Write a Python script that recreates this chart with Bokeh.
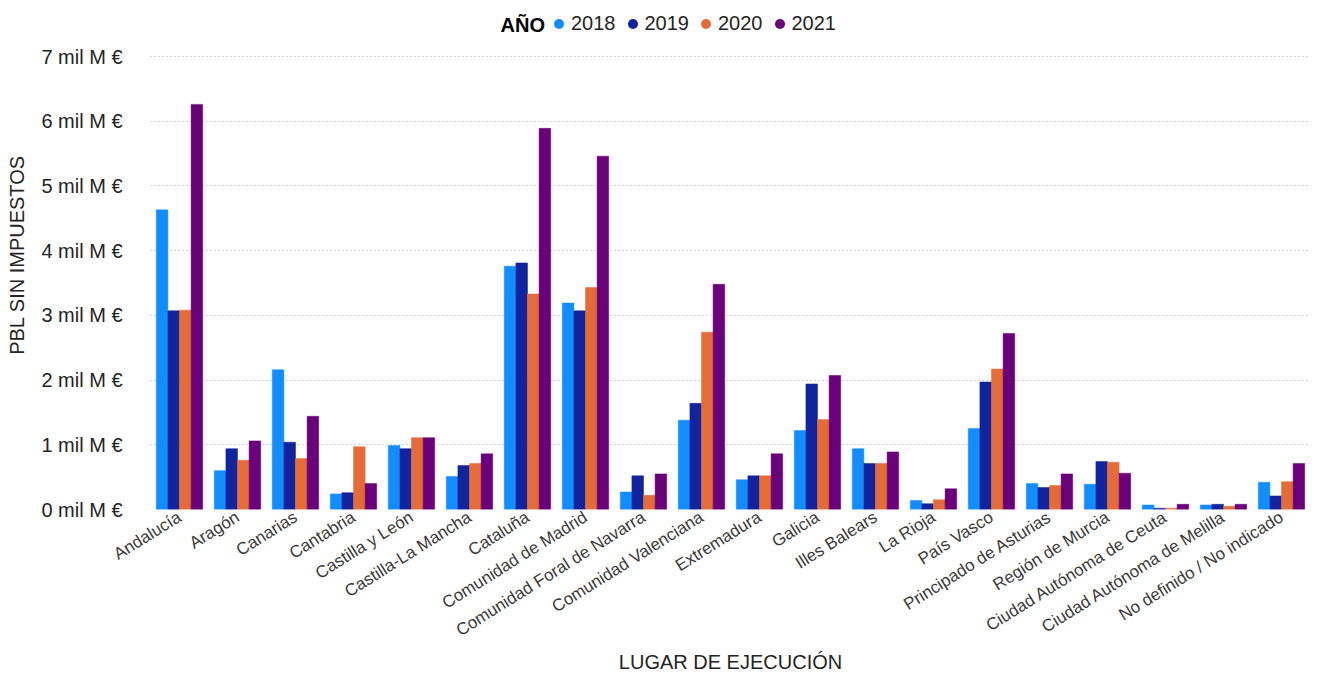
from bokeh.plotting import figure
from bokeh.models import ColumnDataSource, FactorRange, Range1d, Legend, LegendItem, Label, FixedTicker
from bokeh.transform import dodge
from bokeh.embed import file_html
from bokeh.resources import INLINE

categories = ["Andalucía", "Aragón", "Canarias", "Cantabria", "Castilla y León",
              "Castilla-La Mancha", "Cataluña", "Comunidad de Madrid",
              "Comunidad Foral de Navarra", "Comunidad Valenciana", "Extremadura",
              "Galicia", "Illes Balears", "La Rioja", "País Vasco",
              "Principado de Asturias", "Región de Murcia", "Ciudad Autónoma de Ceuta",
              "Ciudad Autónoma de Melilla", "No definido / No indicado"]

y2018 = [4.63, 0.60, 2.16, 0.24, 0.99, 0.51, 3.76, 3.19, 0.27, 1.38, 0.46, 1.22, 0.94, 0.14, 1.25, 0.40, 0.39, 0.07, 0.07, 0.42]
y2019 = [3.07, 0.94, 1.04, 0.26, 0.94, 0.68, 3.81, 3.07, 0.52, 1.64, 0.52, 1.94, 0.71, 0.09, 1.97, 0.34, 0.74, 0.02, 0.08, 0.21]
y2020 = [3.08, 0.76, 0.79, 0.97, 1.11, 0.71, 3.33, 3.43, 0.22, 2.74, 0.52, 1.39, 0.71, 0.15, 2.17, 0.37, 0.73, 0.02, 0.05, 0.43]
y2021 = [6.26, 1.06, 1.44, 0.40, 1.11, 0.86, 5.89, 5.46, 0.55, 3.48, 0.86, 2.07, 0.89, 0.32, 2.72, 0.55, 0.56, 0.08, 0.08, 0.71]

years = ["2018", "2019", "2020", "2021"]
colors = ["#118DFF", "#12239E", "#E66C37", "#6B007B"]
y_ticks = [0, 1, 2, 3, 4, 5, 6, 7]
y_tick_labels = {t: f"{t} mil M €" for t in y_ticks}
legend_title = "AÑO"
x_title = "LUGAR DE EJECUCIÓN"
y_title = "PBL SIN IMPUESTOS"

source = ColumnDataSource(dict(cat=categories, y2018=y2018, y2019=y2019, y2020=y2020, y2021=y2021))

FONT = "Liberation Sans"
FRAME_H = 509          # frame spans from the top of the page down to the zero line
PX_PER_UNIT = 453 / 7  # 7 units span 453 px as in the reference
Y_TOP = FRAME_H / PX_PER_UNIT

p = figure(x_range=FactorRange(*categories, range_padding=0), y_range=Range1d(0, Y_TOP),
           frame_width=1160, frame_height=FRAME_H, output_backend="svg", toolbar_location=None,
           min_border_left=150, min_border_right=10, min_border_top=0, min_border_bottom=166)
p.outline_line_color = None
p.background_fill_color = "white"
p.border_fill_color = "white"

offsets = [-0.3, -0.1, 0.1, 0.3]
legend_items = []
for yr, col, off in zip(years, colors, offsets):
    xs = dodge("cat", off, range=p.x_range)
    p.vbar(x=xs, top="y" + yr, width=0.2, source=source,
           fill_color=col, line_color=col, line_width=0.5)
    # zero-size markers: invisible on the plot, they only give the legend its round dot
    dot = p.scatter(x=xs, y="y" + yr, source=source, marker="circle", size=0,
                    fill_color=col, line_color=None)
    legend_items.append(LegendItem(label=yr, renderers=[dot]))

legend = Legend(items=legend_items, orientation="horizontal", location=(396, FRAME_H - 36),
                padding=0, margin=0, spacing=4, label_standoff=-5,
                glyph_width=25, glyph_height=25, label_height=25,
                border_line_color=None, background_fill_alpha=0,
                label_text_font=FONT, label_text_font_size="20px", label_text_color="#252423")
p.add_layout(legend, "center")
p.add_layout(Label(x=350, y=FRAME_H - 24, x_units="screen", y_units="screen", text=legend_title,
                   text_font=FONT, text_font_size="20px", text_font_style="bold",
                   text_color="#000000", text_baseline="middle", text_align="left"))

# axes
p.yaxis.ticker = FixedTicker(ticks=y_ticks)
p.yaxis.major_label_overrides = y_tick_labels
p.yaxis.axis_label = y_title
p.xaxis.axis_label = x_title
for ax in (p.xaxis, p.yaxis):
    ax.axis_line_color = None
    ax.major_tick_line_color = None
    ax.minor_tick_line_color = None
    ax.major_tick_out = 0
    ax.major_tick_in = 0
    ax.axis_label_text_font = FONT
    ax.axis_label_text_font_style = "normal"
    ax.axis_label_text_font_size = "20px"
    ax.axis_label_text_color = "#252423"
    ax.major_label_text_font = FONT

p.yaxis.major_label_text_font_size = "20px"
p.yaxis.major_label_text_color = "#252423"
p.yaxis.major_label_standoff = 28
p.yaxis.axis_label_standoff = 10

p.xaxis.major_label_text_font_size = "17px"
p.xaxis.major_label_text_color = "#3b3a39"
p.xaxis.major_label_orientation = 0.56
p.xaxis.major_label_standoff = 6
p.xaxis.axis_label_standoff = 0

p.xgrid.grid_line_color = None
p.ygrid.grid_line_color = "#A8A8A8"
p.ygrid.grid_line_dash = "1 3"
p.ygrid.grid_line_width = 1

open("out.html", "w").write(file_html(p, INLINE))
